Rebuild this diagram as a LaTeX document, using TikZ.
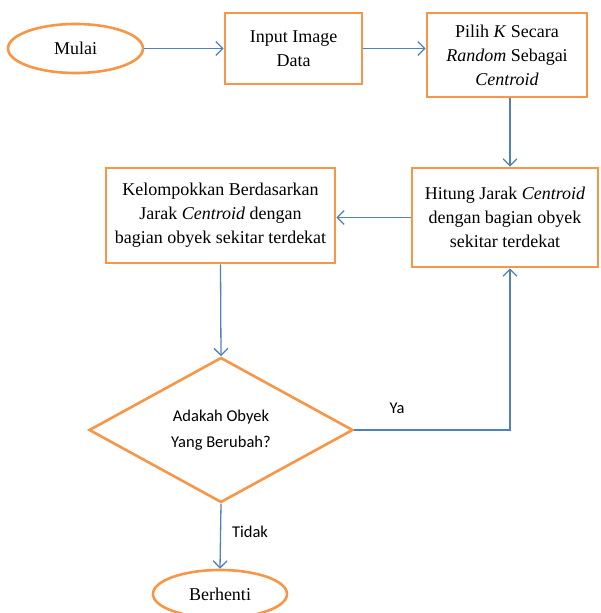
\documentclass[tikz,border=0pt]{standalone}
\usepackage{fontspec}
\setmainfont{Liberation Serif}
\newfontfamily\calib{Carlito}
\usetikzlibrary{shapes.geometric,arrows.meta}
\definecolor{boxorange}{RGB}{247,150,70}
\definecolor{lineblue}{RGB}{79,129,189}
\tikzset{
  procbox/.style={draw=boxorange, line width=2.6pt, rectangle, inner sep=0pt, align=center,
    font=\fontsize{18}{24}\selectfont},
  termin/.style={draw=boxorange, line width=2.6pt, ellipse, inner sep=0pt,
    font=\fontsize{18}{24}\selectfont},
  decide/.style={draw=boxorange, line width=2.6pt, diamond, inner sep=0pt, align=center,
    font=\calib\fontsize{16.5}{26}\selectfont},
  conn/.style={draw=lineblue, line width=1.3pt, -{Straight Barb[length=7pt,width=14pt,line width=1.3pt]}},
  lbl/.style={font=\calib\fontsize{16.5}{20}\selectfont, inner sep=0pt}
}
\begin{document}
\begin{tikzpicture}[x=1pt,y=-1pt]
\useasboundingbox (0,0) rectangle (600,613);
\node[termin, minimum width=135, minimum height=49] (mulai) at (75.5,48.5) {Mulai};
\node[procbox, minimum width=137, minimum height=71] (input) at (293.5,48.5) {Input Image\\Data};
\node[procbox, minimum width=160, minimum height=84] (pilih) at (507,55) {Pilih \textit{K} Secara\\\textit{Random} Sebagai\\\textit{Centroid}};
\node[procbox, minimum width=186, minimum height=99] (hitung) at (505,217.5) {Hitung Jarak \textit{Centroid}\\dengan bagian obyek\\sekitar terdekat};
\node[procbox, minimum width=229, minimum height=95] (kelompok) at (220.5,215.5) {Kelompokkan Berdasarkan\\Jarak \textit{Centroid} dengan\\bagian obyek sekitar terdekat};
\node[decide, minimum width=264, minimum height=145] (cek) at (221,430) {Adakah Obyek\\Yang Berubah?};
\node[termin, minimum width=134, minimum height=48] (berhenti) at (220,594) {Berhenti};
\node[lbl] (ya) at (397,408) {Ya};
\node[lbl] (tidak) at (250,532) {Tidak};
\coordinate (yacorner) at (510,430);
\draw[conn] (mulai.east) -- (input.west);
\draw[conn] (input.east) -- (input.east -| pilih.west);
\draw[conn] (pilih.south -| yacorner) -- (hitung.north -| yacorner);
\draw[conn] (hitung.west) -- (hitung.west -| kelompok.east);
\draw[conn] (kelompok.south) -- (cek.north);
\draw[conn] (cek.east) -- (yacorner) -- (hitung.south -| yacorner);
\draw[conn] (cek.south) -- (berhenti.north);
\end{tikzpicture}
\end{document}
